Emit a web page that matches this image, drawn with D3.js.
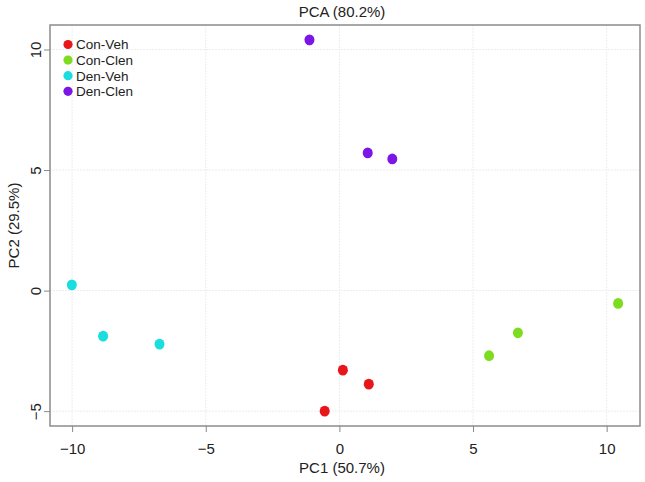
<!DOCTYPE html>
<html>
<head>
<meta charset="utf-8">
<script src="https://cdn.jsdelivr.net/npm/d3@7"></script>
<style>
  body { margin: 0; background: #fff; }
  text { font-family: "Liberation Sans", Arial, sans-serif; fill: #222; }
</style>
</head>
<body>
<div id="chart"></div>
<script>
// groups and PCA scores
var groups = ["Con-Veh", "Con-Clen", "Den-Veh", "Den-Clen"];
var colors = ["#e8161b", "#7ddc1f", "#1adde0", "#7b16e6"];
var pc1 = [0.13, 1.10, -0.55, 5.60, 6.68, 10.43, -10.01, -8.84, -6.73, -1.12, 1.06, 1.98];
var pc2 = [-3.30, -3.88, -5.00, -2.70, -1.75, -0.53, 0.24, -1.89, -2.22, 10.40, 5.71, 5.46];
var group = [0, 0, 0, 1, 1, 1, 2, 2, 2, 3, 3, 3];
var xTicks = [-10, -5, 0, 5, 10];
var yTicks = [-5, 0, 5, 10];

var svgWidth = 645, svgHeight = 482;
var margin = { top: 25, right: 5, bottom: 56, left: 50 };
var width = svgWidth - margin.left - margin.right;
var height = svgHeight - margin.top - margin.bottom;

var svg = d3.select("#chart")
  .append("svg")
  .attr("width", svgWidth)
  .attr("height", svgHeight);

var g = svg.append("g")
  .attr("transform", "translate(" + margin.left + "," + margin.top + ")");

// R style: data range padded by 4% on each side
function padded(v) {
  var e = d3.extent(v), p = (e[1] - e[0]) * 0.04;
  return [e[0] - p, e[1] + p];
}

var x = d3.scaleLinear().domain(padded(pc1)).range([0, width]);
var y = d3.scaleLinear().domain(padded(pc2)).range([height, 0]);

// grid
g.selectAll(".gx").data(xTicks).enter().append("line")
  .attr("x1", function (d) { return x(d); })
  .attr("x2", function (d) { return x(d); })
  .attr("y1", 0).attr("y2", height)
  .attr("stroke", "#ededed").attr("stroke-dasharray", "2,1");
g.selectAll(".gy").data(yTicks).enter().append("line")
  .attr("y1", function (d) { return y(d); })
  .attr("y2", function (d) { return y(d); })
  .attr("x1", 0).attr("x2", width)
  .attr("stroke", "#ededed").attr("stroke-dasharray", "2,1");

// axes
var xAxis = g.append("g")
  .attr("transform", "translate(0," + height + ")")
  .call(d3.axisBottom(x).tickValues(xTicks).tickSize(6).tickPadding(8).tickFormat(d3.format("d")));
var yAxis = g.append("g")
  .call(d3.axisLeft(y).tickValues(yTicks).tickSize(6).tickPadding(8).tickFormat(d3.format("d")));

[xAxis, yAxis].forEach(function (a) {
  a.select(".domain").remove();
  a.selectAll("line").attr("stroke", "#888");
  a.selectAll("text").style("font-size", "15px").style("fill", "#222")
    .style("font-family", "'Liberation Sans', Arial, sans-serif");
});
xAxis.selectAll("text").attr("dy", "0.9em");
yAxis.selectAll("text")
  .attr("text-anchor", "middle")
  .attr("transform", "rotate(-90,-14,0)")
  .attr("x", -14).attr("dy", "0.35em");

// box
g.append("rect")
  .attr("width", width).attr("height", height)
  .attr("fill", "none").attr("stroke", "#8c8c8c").attr("stroke-width", 1.5);

// points
g.selectAll(".pt").data(pc1).enter().append("ellipse")
  .attr("cx", function (d) { return x(d); })
  .attr("cy", function (d, i) { return y(pc2[i]); })
  .attr("rx", 5).attr("ry", 5.4)
  .attr("fill", function (d, i) { return colors[group[i]]; });

// legend
var leg = g.selectAll(".leg").data(groups).enter().append("g")
  .attr("transform", function (d, i) { return "translate(18," + (19.5 + i * 15.6) + ")"; });
leg.append("circle").attr("r", 4.6).attr("fill", function (d, i) { return colors[i]; });
leg.append("text").attr("x", 8).attr("dy", "0.36em")
  .style("font-size", "13.5px").text(function (d) { return d; });

// titles
svg.append("text").attr("x", margin.left + width / 2 - 3).attr("y", 17)
  .attr("text-anchor", "middle").style("font-size", "15px").text("PCA (80.2%)");
svg.append("text").attr("x", margin.left + width / 2 - 3).attr("y", 473)
  .attr("text-anchor", "middle").style("font-size", "15px").text("PC1 (50.7%)");
svg.append("text")
  .attr("transform", "translate(19," + (margin.top + height / 2) + ") rotate(-90)")
  .attr("text-anchor", "middle").style("font-size", "15px").text("PC2 (29.5%)");
</script>
</body>
</html>
